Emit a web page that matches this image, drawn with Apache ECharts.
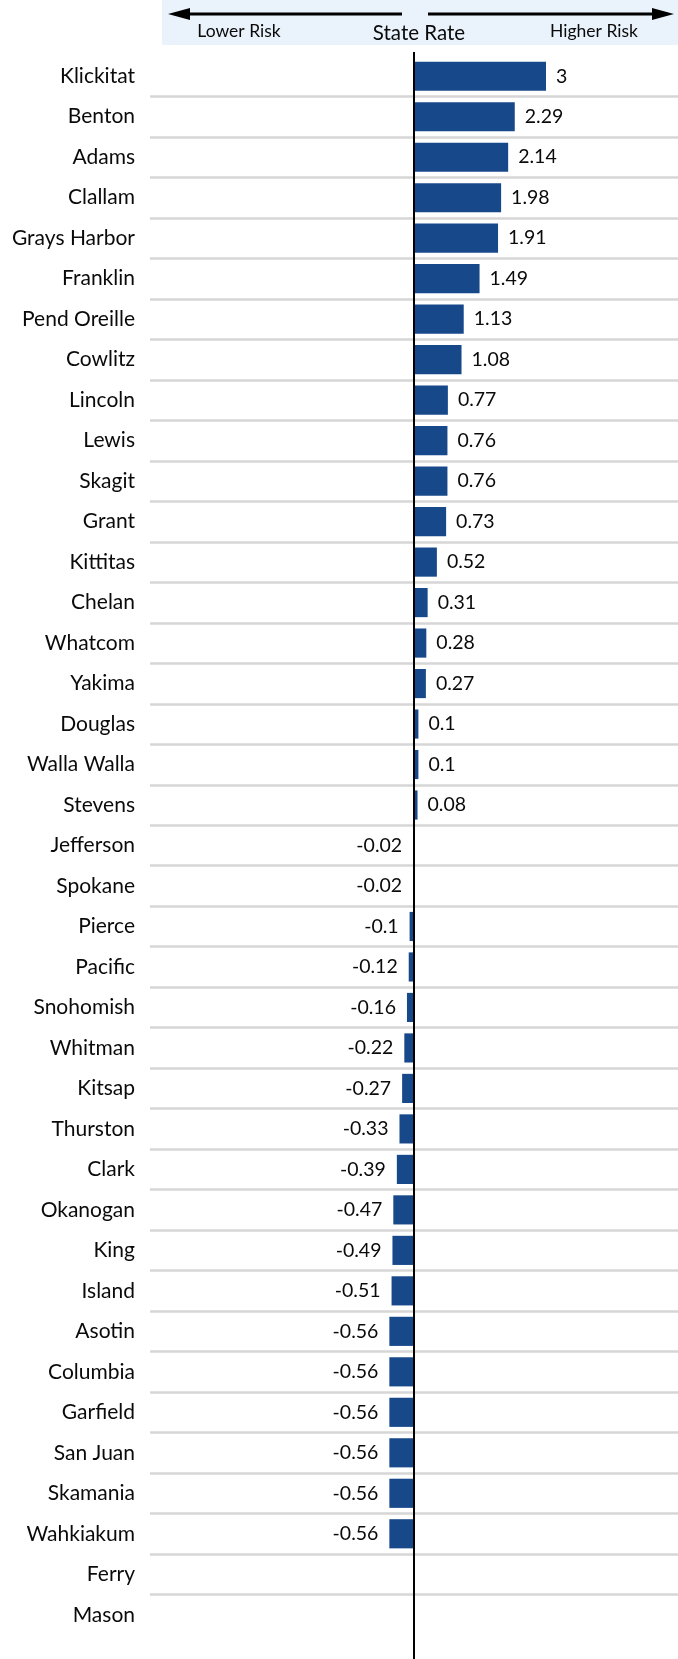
<!DOCTYPE html>
<html>
<head>
<meta charset="utf-8">
<script src="https://cdn.jsdelivr.net/npm/echarts@6/dist/echarts.min.js"></script>
<style>
  html, body { margin: 0; padding: 0; background: #fff; }
  #chart { width: 678px; height: 1659px; }
</style>
</head>
<body>
<div id="chart"></div>
<script>
// Counties, ordered from highest to lowest difference from the state rate
const counties = [
  'Klickitat', 'Benton', 'Adams', 'Clallam', 'Grays Harbor', 'Franklin',
  'Pend Oreille', 'Cowlitz', 'Lincoln', 'Lewis', 'Skagit', 'Grant',
  'Kittitas', 'Chelan', 'Whatcom', 'Yakima', 'Douglas', 'Walla Walla',
  'Stevens', 'Jefferson', 'Spokane', 'Pierce', 'Pacific', 'Snohomish',
  'Whitman', 'Kitsap', 'Thurston', 'Clark', 'Okanogan', 'King', 'Island',
  'Asotin', 'Columbia', 'Garfield', 'San Juan', 'Skamania', 'Wahkiakum',
  'Ferry', 'Mason'
];

// Difference from the state rate (null = no value reported)
const diffFromState = [
  3, 2.29, 2.14, 1.98, 1.91, 1.49,
  1.13, 1.08, 0.77, 0.76, 0.76, 0.73,
  0.52, 0.31, 0.28, 0.27, 0.1, 0.1,
  0.08, -0.02, -0.02, -0.1, -0.12, -0.16,
  -0.22, -0.27, -0.33, -0.39, -0.47, -0.49, -0.51,
  -0.56, -0.56, -0.56, -0.56, -0.56, -0.56,
  null, null
];

// Header texts
const headerLeft = 'Lower Risk';
const headerMid = 'State Rate';
const headerRight = 'Higher Risk';

const FONT = 'Lato, "Open Sans", sans-serif';
const BAR_COLOR = '#17488a';

const barData = diffFromState.map(v => {
  if (v === null) return { value: '-' };
  return {
    value: v,
    label: { position: v < 0 ? 'left' : 'right', distance: v < 0 ? 11 : 10 }
  };
});

const chart = echarts.init(document.getElementById('chart'), null, { renderer: 'canvas' });

const option = {
  animation: false,
  backgroundColor: '#ffffff',
  grid: { left: 150, right: 0, top: 56, bottom: 24, containLabel: false },
  xAxis: {
    type: 'value',
    min: -6,
    max: 6,
    show: false,
    splitLine: { show: false }
  },
  yAxis: {
    type: 'category',
    data: counties,
    inverse: true,
    axisLine: { show: false },
    axisTick: { show: false },
    axisLabel: {
      margin: 15,
      fontFamily: FONT,
      fontSize: 21,
      color: '#0a0a0a'
    },
    splitLine: {
      show: true,
      showMinLine: false,
      showMaxLine: false,
      lineStyle: { color: '#d6d6d6', width: 2.5 }
    }
  },
  series: [{
    type: 'bar',
    data: barData,
    barCategoryGap: '28%',
    itemStyle: { color: BAR_COLOR },
    label: {
      show: true,
      fontFamily: FONT,
      fontSize: 19.5,
      color: '#0a0a0a'
    }
  }]
};

chart.setOption(option);

// Zero reference line and header band, placed from the axis scale
const zeroX = chart.convertToPixel({ xAxisIndex: 0 }, 0);
const arrowY = 14;
chart.setOption({
  graphic: [
    {
      type: 'rect', z: 0,
      shape: { x: 162, y: 0, width: 516, height: 45 },
      style: { fill: '#eaf3fb' }
    },
    {
      type: 'line', z: 10,
      shape: { x1: 186, y1: arrowY, x2: zeroX - 12, y2: arrowY },
      style: { stroke: '#000', lineWidth: 3 }
    },
    {
      type: 'polygon', z: 10,
      shape: { points: [[168, arrowY], [190, arrowY - 6], [190, arrowY + 6]] },
      style: { fill: '#000' }
    },
    {
      type: 'line', z: 10,
      shape: { x1: zeroX + 14, y1: arrowY, x2: 656, y2: arrowY },
      style: { stroke: '#000', lineWidth: 3 }
    },
    {
      type: 'polygon', z: 10,
      shape: { points: [[674, arrowY], [652, arrowY - 6], [652, arrowY + 6]] },
      style: { fill: '#000' }
    },
    {
      type: 'text', z: 10,
      x: 239, y: 31,
      style: { text: headerLeft, fontFamily: FONT, fontSize: 17.5, fill: '#0a0a0a', align: 'center', verticalAlign: 'middle' }
    },
    {
      type: 'text', z: 10,
      x: zeroX + 5, y: 33,
      style: { text: headerMid, fontFamily: FONT, fontSize: 20.5, fill: '#0a0a0a', align: 'center', verticalAlign: 'middle' }
    },
    {
      type: 'text', z: 10,
      x: 594, y: 31,
      style: { text: headerRight, fontFamily: FONT, fontSize: 17.5, fill: '#0a0a0a', align: 'center', verticalAlign: 'middle' }
    },
    {
      type: 'line', z: 10,
      shape: { x1: zeroX, y1: 52, x2: zeroX, y2: 1659 },
      style: { stroke: '#000', lineWidth: 2 }
    }
  ]
});
</script>
</body>
</html>
